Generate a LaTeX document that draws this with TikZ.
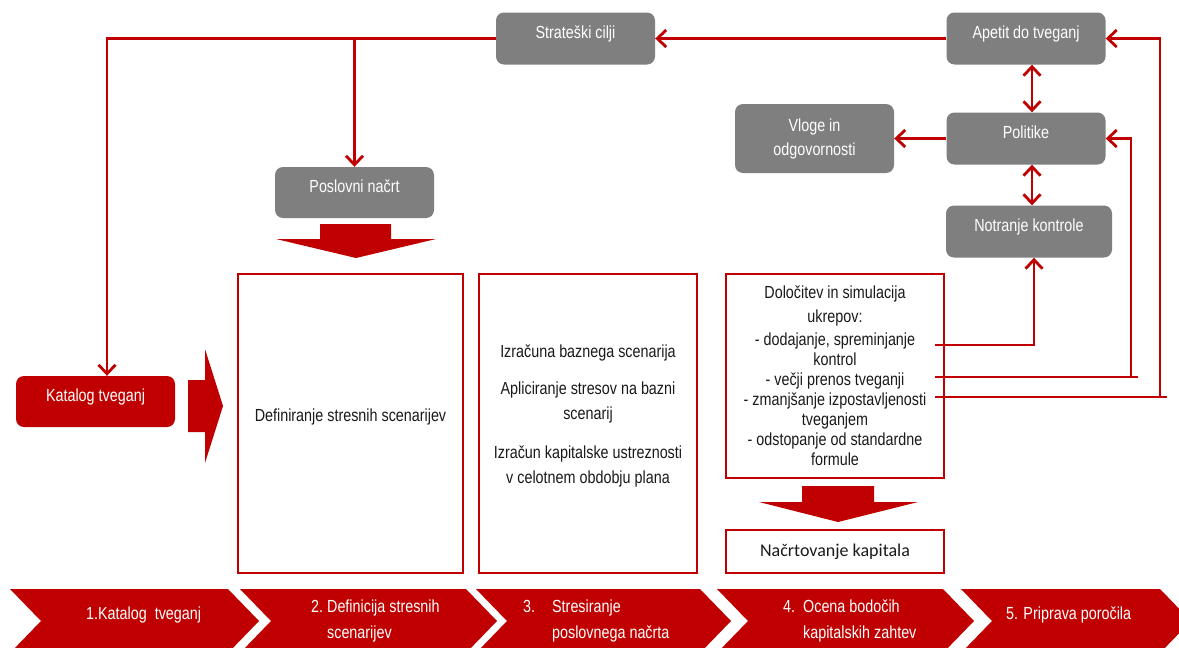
\documentclass[tikz,border=0pt]{standalone}
\usepackage{fontspec}
\setmainfont{Liberation Sans}[FakeStretch=0.82]
\newfontfamily\calibrifont{Carlito}
\usetikzlibrary{arrows.meta,calc}

\definecolor{brandred}{HTML}{C00000}
\definecolor{boxgray}{HTML}{7F7F7F}
\definecolor{inkdark}{HTML}{1A1A1A}

% text whose baseline sits on the node centre
\newcommand{\boxtxt}[1]{\raisebox{0pt}[0pt][0pt]{#1}}

\tikzset{
  graybox/.style={fill=boxgray, rounded corners=8pt, text=white,
    minimum width=159pt, minimum height=52pt, inner sep=0pt,
    font=\fontsize{17.5}{24}\selectfont, align=center},
  redbox/.style={draw=brandred, line width=2.8pt, fill=white, inner sep=0pt,
    text=inkdark, font=\fontsize{17.5}{20}\selectfont, align=center},
  bodytext/.style={text=inkdark, inner sep=0pt, align=center},
  link/.style={draw=brandred, line width=2.8pt},
  tip/.tip={Straight Barb[length=9pt,width=17pt]},
  arr/.style={link, -tip},
  dbl/.style={link, tip-tip},
  blockarrow/.style={fill=brandred, draw=none},
  chevtext/.style={text=white, inner sep=0pt, anchor=base west,
    font=\fontsize{17.5}{26}\selectfont},
}

% one step of the process band: top-left x, top-right x
\newcommand{\chevronstep}[2]{%
  \fill[brandred] (#1,589) -- (#2,589) -- (#2+31,621) -- (#2,653)
    -- (#1,653) -- (#1+31,621) -- cycle;}

\begin{document}
\begin{tikzpicture}[x=1pt,y=-1pt]
\clip (0,0) rectangle (1179,648);
\fill[white] (0,0) rectangle (1179,648);

% ---- governance boxes
\node[graybox] (strat)    at (575.5,38.5)  {\boxtxt{Strateški cilji}};
\node[graybox] (apetit)   at (1026,38.5)   {\boxtxt{Apetit do tveganj}};
\node[graybox] (politike) at (1026,138.5)  {\boxtxt{Politike}};
\node[graybox, minimum width=166pt] (notranje) at (1029,231.5) {\boxtxt{Notranje kontrole}};
\node[graybox, minimum width=159pt, minimum height=69pt] (vloge) at (814.5,138.5)
  {Vloge in\\odgovornosti};
\node[graybox, minimum height=51pt] (poslovni) at (354.5,192.5) {\boxtxt{Poslovni načrt}};
\node[graybox, fill=brandred, minimum height=51pt] (katalog) at (95.5,401.5)
  {\boxtxt{Katalog tveganj}};

% ---- process boxes
\node[redbox, minimum width=225pt, minimum height=299pt] (definicija) at (350.5,423.5)
  {\raisebox{2pt}[0pt][0pt]{Definiranje stresnih scenarijev}};
\node[redbox, minimum width=218pt, minimum height=299pt] (stres) at (588,423.5) {};
\node[bodytext, font=\fontsize{17.5}{25}\selectfont] (stresText) at (588,416)
  {Izračuna baznega scenarija\\[12pt]
   Apliciranje stresov na bazni\\ scenarij\\[14pt]
   Izračun kapitalske ustreznosti\\ v celotnem obdobju plana};
\node[redbox, minimum width=218pt, minimum height=204pt] (ukrepi) at (835,376)
  {Določitev in simulacija\\[4pt] ukrepov:\\[3pt]
   - dodajanje, spreminjanje\\ kontrol\\
   - večji prenos tveganji\\
   - zmanjšanje izpostavljenosti\\ tveganjem\\
   - odstopanje od standardne\\ formule};
\node[redbox, minimum width=218pt, minimum height=43pt,
  font=\calibrifont\fontsize{18}{20}\selectfont] (kapital) at (835,551.5)
  {Načrtovanje kapitala};

% ---- block arrows
\fill[blockarrow] (320,224) -- (391,224) -- (391,239) -- (436,239) -- (356,258)
  -- (276,239) -- (320,239) -- cycle;
\fill[blockarrow] (188,380) -- (205,380) -- (205,349) -- (223,406) -- (205,463)
  -- (205,432) -- (188,432) -- cycle;
\fill[blockarrow] (802,486) -- (874,486) -- (874,502) -- (918,502) -- (838,522)
  -- (759,502) -- (802,502) -- cycle;

% ---- connectors
\coordinate (leftRail) at (107,0);
\coordinate (spine) at (1032,0);
\coordinate (ctrlRail) at (1034,0);
\coordinate (m1) at (935,345);
\coordinate (m2) at (935,377);
\coordinate (m3) at (935,397);

\draw[arr] (apetit.west) -- (strat.east);
\draw[arr] (strat.west) -| (katalog.north -| leftRail);
\draw[arr] (poslovni.north |- strat.west) -- (poslovni.north);
\draw[dbl] (apetit.south -| spine) -- (politike.north -| spine);
\draw[dbl] (politike.south -| spine) -- (notranje.north -| spine);
\draw[arr] (politike.west) -- (vloge.east);

\draw[arr] (m1) -| (notranje.south -| ctrlRail);
\draw[link] (m2) -- (1138,377);
\draw[arr] (1131,378.4) |- (politike.east);
\draw[link] (m3) -- (1167,397);
\draw[arr] (1160,398.4) |- (apetit.east);

% ---- process band
\chevronstep{10}{228}
\chevronstep{240}{466}
\chevronstep{476}{700}
\chevronstep{717}{943}
\chevronstep{961}{1160}

\node[chevtext] (step1) at (86,619) {1.Katalog\ \ tveganj};
\node[chevtext] (step2) at (311,612)
  {\begin{tabular}[t]{@{}l@{\hspace{4pt}}l@{}}2.&Definicija stresnih\\ &scenarijev\end{tabular}};
\node[chevtext] (step3) at (523,612)
  {\begin{tabular}[t]{@{}l@{\hspace{17pt}}l@{}}3.&Stresiranje\\ &poslovnega načrta\end{tabular}};
\node[chevtext] (step4) at (783,612)
  {\begin{tabular}[t]{@{}l@{\hspace{8pt}}l@{}}4.&Ocena bodočih\\ &kapitalskih zahtev\end{tabular}};
\node[chevtext] (step5) at (1006,619) {5. Priprava poročila};
\end{tikzpicture}
\end{document}
